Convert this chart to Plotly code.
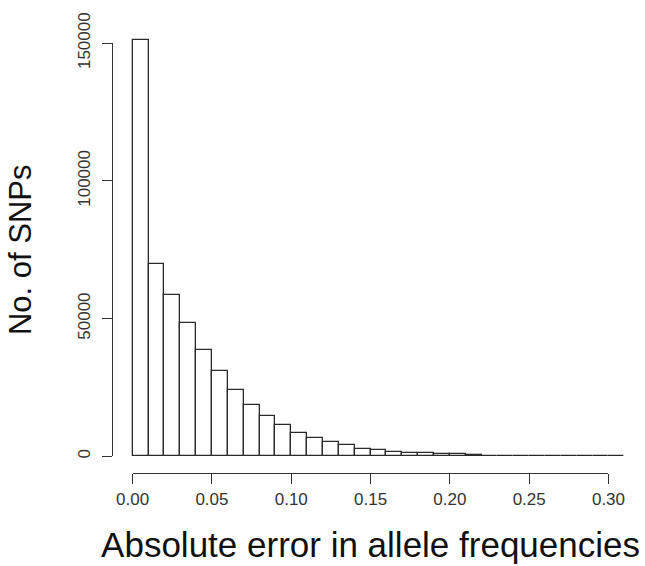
import plotly.graph_objects as go

# Histogram of absolute error in allele frequencies (bin width 0.01)
bin_left = [round(i * 0.01, 2) for i in range(31)]
counts = [151300, 69800, 58500, 48250, 38700, 31000, 24200, 18500, 14500, 11300,
          8500, 6800, 5200, 4000, 2800, 2400, 1600, 1200, 1100, 800,
          700, 350, 300, 250, 200, 150, 100, 0, 0, 0, 0]
bin_width = 0.01
x_tickvals = [0.0, 0.05, 0.10, 0.15, 0.20, 0.25, 0.30]
x_ticktext = ["0.00", "0.05", "0.10", "0.15", "0.20", "0.25", "0.30"]
y_tickvals = [0, 50000, 100000, 150000]
y_ticktext = ["0", "50000", "100000", "150000"]
x_title = "Absolute error in allele frequencies"
y_title = "No. of SNPs"

# R-style 4% padding
xmin, xmax = 0.0, 0.31
ymin, ymax = 0.0, max(counts)
xpad = (xmax - xmin) * 0.04
ypad = (ymax - ymin) * 0.04
xr = [xmin - xpad, xmax + xpad]
yr = [ymin - ypad, ymax + ypad]

def frac(v, r):
    return (v - r[0]) / (r[1] - r[0])

centers = [b + bin_width / 2 for b in bin_left]

fig = go.Figure()
fig.add_trace(go.Bar(
    x=centers, y=counts, width=[bin_width] * len(counts),
    marker=dict(color="white", line=dict(color="#2a2a2a", width=1.3)),
    xaxis="x", yaxis="y", showlegend=False, hoverinfo="skip",
))
# dummy trace for the R-style detached axes
fig.add_trace(go.Scatter(x=[x_tickvals[0]], y=[y_tickvals[0]], mode="markers",
                         marker=dict(opacity=0), xaxis="x2", yaxis="y2",
                         showlegend=False, hoverinfo="skip"))

font_family = "Liberation Sans, Arial, sans-serif"
fig.update_layout(
    width=645, height=566,
    margin=dict(l=113, r=1, t=23, b=93),
    paper_bgcolor="white", plot_bgcolor="rgba(0,0,0,0)",
    bargap=0,
    font=dict(family=font_family, color="#222"),
    xaxis=dict(range=xr, visible=False, domain=[0, 1], automargin=False),
    yaxis=dict(range=yr, visible=False, domain=[0, 1], automargin=False),
    xaxis2=dict(
        domain=[frac(x_tickvals[0], xr), frac(x_tickvals[-1], xr)],
        range=[x_tickvals[0], x_tickvals[-1]],
        anchor="y", automargin=False,
        showline=True, linecolor="#333", linewidth=1.3,
        ticks="outside", ticklen=10, tickwidth=1.3, tickcolor="#333",
        tickvals=x_tickvals, ticktext=x_ticktext,
        tickfont=dict(size=17, color="#333"),
        showgrid=False, zeroline=False,
        title=dict(text=x_title, font=dict(size=35, color="#111"), standoff=24),
    ),
    yaxis2=dict(
        domain=[frac(y_tickvals[0], yr), frac(y_tickvals[-1], yr)],
        range=[y_tickvals[0], y_tickvals[-1]],
        anchor="x", automargin=False,
        showline=True, linecolor="#333", linewidth=1.3,
        ticks="outside", ticklen=10, tickwidth=1.3, tickcolor="#333",
        tickvals=y_tickvals, ticktext=y_ticktext, tickangle=-90,
        ticklabelstandoff=5,
        tickfont=dict(size=17, color="#333"),
        showgrid=False, zeroline=False,
        title=dict(text=y_title, font=dict(size=31, color="#111"), standoff=34),
    ),
)

fig.write_html("out.html", config={"displayModeBar": False},
               post_script="document.body.style.margin='0';")
